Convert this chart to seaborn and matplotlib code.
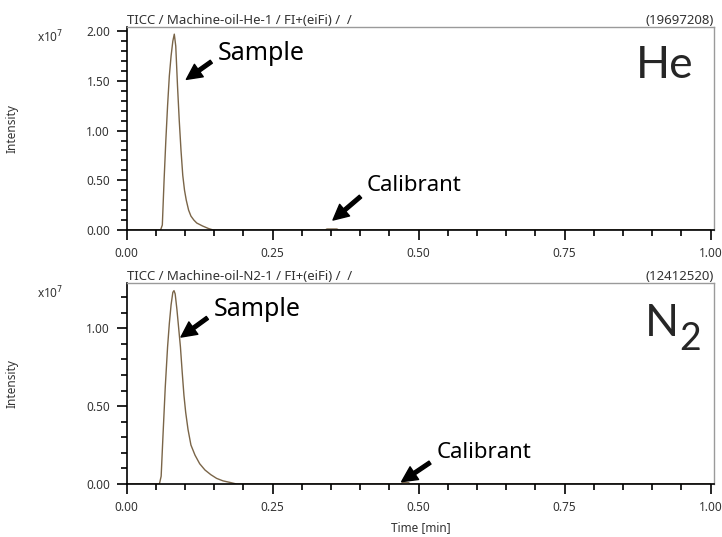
import numpy as np
import pandas as pd
import matplotlib
matplotlib.use('Agg')
import matplotlib.pyplot as plt
from matplotlib.ticker import MultipleLocator, FormatStrFormatter
import seaborn as sns

# 数据 (强度单位 x10^7, 时间 min)
he_time = [0.000, 0.058, 0.061, 0.064, 0.067, 0.070, 0.073, 0.076, 0.079, 0.0815,
           0.084, 0.087, 0.090, 0.093, 0.096, 0.099, 0.102, 0.106, 0.110, 0.115,
           0.120, 0.130, 0.140, 0.148, 0.340, 0.343, 0.360, 0.363, 1.000]
he_intensity = [0.0, 0.0, 0.05, 0.50, 0.90, 1.25, 1.55, 1.75, 1.90, 1.97,
                1.85, 1.45, 1.10, 0.80, 0.55, 0.40, 0.30, 0.20, 0.14, 0.10,
                0.07, 0.04, 0.015, 0.0, 0.0, 0.01, 0.01, 0.0, 0.0]

n2_time = [0.000, 0.056, 0.059, 0.062, 0.066, 0.070, 0.073, 0.076, 0.079, 0.081,
           0.083, 0.086, 0.089, 0.092, 0.095, 0.098, 0.101, 0.105, 0.110, 0.117,
           0.125, 0.134, 0.144, 0.154, 0.165, 0.177, 0.188, 0.470, 0.472, 0.483,
           0.485, 1.000]
n2_intensity = [0.0, 0.0, 0.05, 0.30, 0.62, 0.88, 1.03, 1.15, 1.23, 1.241,
                1.22, 1.12, 1.00, 0.88, 0.72, 0.57, 0.46, 0.35, 0.25, 0.185,
                0.13, 0.09, 0.06, 0.036, 0.02, 0.01, 0.0, 0.0, 0.008, 0.008,
                0.0, 0.0]

he_title = 'TICC / Machine-oil-He-1 / FI+(eiFi) /  /'
n2_title = 'TICC / Machine-oil-N2-1 / FI+(eiFi) /  /'
he_max = '(19697208)'
n2_max = '(12412520)'

sns.set_style('white')
plt.rcParams['font.family'] = ['Noto Sans', 'DejaVu Sans']
plt.rcParams['xtick.bottom'] = True
plt.rcParams['ytick.left'] = True
plt.rcParams['xtick.color'] = 'black'
plt.rcParams['ytick.color'] = 'black'

fig = plt.figure(figsize=(7.22, 5.37), dpi=100)
ax1 = fig.add_axes([0.1755, 0.5717, 0.8135, 0.3786])
ax2 = fig.add_axes([0.1755, 0.0987, 0.8135, 0.3743])

line_color = '#7a6548'
tick_color = '#333333'

panels = [
    (ax1, he_time, he_intensity, he_title, he_max, 2.045, [0, 0.5, 1.0, 1.5, 2.0]),
    (ax2, n2_time, n2_intensity, n2_title, n2_max, 1.29, [0, 0.5, 1.0]),
]

for ax, t, y, title, peak, ytop, yticks in panels:
    df = pd.DataFrame({'Time': t, 'Intensity': y})
    sns.lineplot(data=df, x='Time', y='Intensity', ax=ax, color=line_color,
                 linewidth=1.0, estimator=None, sort=False)
    ax.set_xlim(0, 1.006)
    ax.set_ylim(0, ytop)
    ax.set_xticks([0, 0.25, 0.5, 0.75, 1.0])
    ax.set_yticks(yticks)
    ax.xaxis.set_minor_locator(MultipleLocator(0.05))
    ax.yaxis.set_minor_locator(MultipleLocator(0.1))
    ax.xaxis.set_major_formatter(FormatStrFormatter('%.2f'))
    ax.yaxis.set_major_formatter(FormatStrFormatter('%.2f'))
    ax.tick_params(which='major', direction='out', length=7, width=1.2,
                   color='black', labelsize=8.5, labelcolor=tick_color, pad=5,
                   bottom=True, left=True)
    ax.tick_params(which='minor', direction='out', length=4, width=1.2,
                   color='black', bottom=True, left=True)
    for s in ['left', 'bottom']:
        ax.spines[s].set_color('black')
        ax.spines[s].set_linewidth(1.2)
    for s in ['top', 'right']:
        ax.spines[s].set_color('#9a9a9a')
        ax.spines[s].set_linewidth(1.0)
    ax.set_title(title, loc='left', fontsize=9.5, color=tick_color, pad=2)
    ax.set_title(peak, loc='right', fontsize=9.5, color=tick_color, pad=2)
    ax.set_ylabel('Intensity', fontsize=8.5, color=tick_color)
    ax.yaxis.set_label_coords(-0.185, 0.5)
    ax.set_xlabel('')
    ax.text(-0.131, 0.948, 'x10$^7$', transform=ax.transAxes, fontsize=8.5,
            color=tick_color, ha='center', va='center')

ax2.set_xlabel('Time [min]', fontsize=8.5, color=tick_color, labelpad=5)

sample_font = dict(family=['Noto Sans', 'DejaVu Sans'], fontsize=18, color='black')
calib_font = dict(family=['Noto Sans', 'DejaVu Sans'], fontsize=16, color='black')


def arrow(rel):
    return dict(arrowstyle='simple,tail_width=0.13,head_width=0.55,head_length=0.55',
                mutation_scale=20, facecolor='black', edgecolor='black',
                relpos=rel, shrinkA=3, shrinkB=0)


ax1.annotate('Sample', xy=(0.1022, 1.515), xytext=(0.1563, 1.778),
             ha='left', va='center', arrowprops=arrow((0, 0.35)), **sample_font)
ax1.annotate('Calibrant', xy=(0.3533, 0.10), xytext=(0.4114, 0.444),
             ha='left', va='center', arrowprops=arrow((0, 0.25)), **calib_font)
ax2.annotate('Sample', xy=(0.093, 0.943), xytext=(0.1495, 1.121),
             ha='left', va='center', arrowprops=arrow((0, 0.35)),
             annotation_clip=False, **sample_font)
ax2.annotate('Calibrant', xy=(0.4709, 0.015), xytext=(0.531, 0.20),
             ha='left', va='center', arrowprops=arrow((0, 0.25)), **calib_font)

big_font = ['Lato', 'DejaVu Sans']
ax1.text(0.965, 0.748, 'He', transform=ax1.transAxes, ha='right',
         va='baseline', family=big_font, fontsize=32)
ax2.text(0.883, 0.734, 'N', transform=ax2.transAxes, ha='left',
         va='baseline', family=big_font, fontsize=32)
ax2.text(0.9409, 0.667, '2', transform=ax2.transAxes, ha='left',
         va='baseline', family=big_font, fontsize=27)

fig.savefig('out.png', dpi=100)
